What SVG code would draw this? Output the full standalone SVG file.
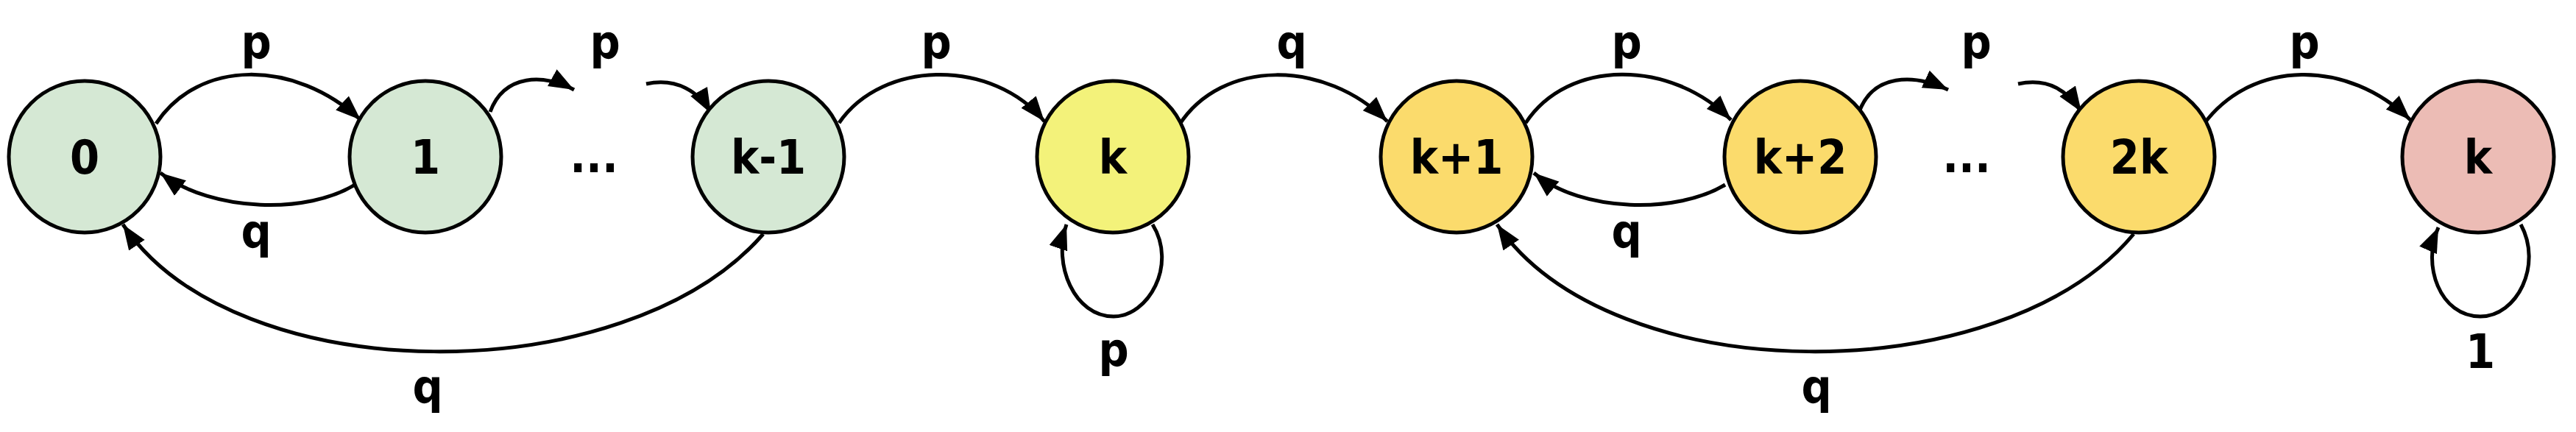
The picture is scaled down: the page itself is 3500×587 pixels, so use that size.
<svg xmlns="http://www.w3.org/2000/svg" width="3500" height="587" viewBox="0 0 3500 587">
<style>
text{font-family:"DejaVu Sans Condensed","DejaVu Sans",sans-serif;font-weight:bold;font-stretch:condensed;font-size:64px;text-anchor:middle;fill:#000}
.n{stroke:#000;stroke-width:5}
.e{fill:none;stroke:#000;stroke-width:5;marker-end:url(#a)}
</style>
<defs><marker id="a" markerUnits="userSpaceOnUse" markerWidth="40" markerHeight="30" refX="34" refY="13" orient="auto"><path d="M0,0 L34,13 L0,26 Z" fill="#000"/></marker></defs>
<rect width="3500" height="587" fill="#fff"/>
<g id="edges">
<path class="e" d="M212,168 C270,80 400,80 490,163"/>
<path class="e" d="M482,251 C420,290 290,290 218,235"/>
<path class="e" d="M666,152 C685,100 740,100 780,122"/>
<path class="e" d="M878,114 C920,105 950,125 966,154"/>
<path class="e" d="M1037,318 C850,533 320,533 167,305"/>
<path class="e" d="M1140,167 C1200,80 1350,80 1419,165"/>
<path class="e" d="M1602,170 C1660,80 1800,80 1885,165"/>
<path class="e" d="M2073,167 C2130,80 2270,80 2352,163"/>
<path class="e" d="M2344,251 C2280,290 2150,290 2084,235"/>
<path class="e" d="M1566,305 C1600,360 1560,430 1513,430 C1460,430 1430,360 1449,305"/>
<path class="e" d="M2526,152 C2545,100 2600,100 2647,122"/>
<path class="e" d="M2742,114 C2785,105 2810,125 2828,152"/>
<path class="e" d="M2899,318 C2720,533 2190,533 2034,305"/>
<path class="e" d="M2994,169 C3060,80 3190,80 3275,163"/>
<path class="e" d="M3425,305 C3455,360 3420,430 3370,430 C3315,430 3290,360 3313,309"/>
<text x="348" y="80">p</text>
<text x="348" y="337">q</text>
<text x="822" y="80">p</text>
<text x="581" y="548">q</text>
<text x="1272" y="80">p</text>
<text x="1755" y="80">q</text>
<text x="2210" y="80">p</text>
<text x="2210" y="337">q</text>
<text x="1513" y="498">p</text>
<text x="2685" y="80">p</text>
<text x="2468" y="548">q</text>
<text x="3131" y="80">p</text>
<text x="3370" y="500">1</text>
<text x="807" y="234">...</text>
<text x="2672" y="234">...</text>
</g>
<g id="n0"><circle class="n" cx="115" cy="213" r="103" fill="#d5e8d4"/><text x="115" y="236">0</text></g>
<g id="n1"><circle class="n" cx="578" cy="213" r="103" fill="#d5e8d4"/><text x="578" y="236">1</text></g>
<g id="nk1"><circle class="n" cx="1044" cy="213" r="103" fill="#d5e8d4"/><text x="1044" y="236">k-1</text></g>
<g id="nk"><circle class="n" cx="1512" cy="213" r="103" fill="#f3f27a"/><text x="1512" y="236">k</text></g>
<g id="nkp1"><circle class="n" cx="1979" cy="213" r="103" fill="#fbdb6c"/><text x="1979" y="236">k+1</text></g>
<g id="nkp2"><circle class="n" cx="2446" cy="213" r="103" fill="#fbdb6c"/><text x="2446" y="236">k+2</text></g>
<g id="n2k"><circle class="n" cx="2906" cy="213" r="103" fill="#fbdb6c"/><text x="2906" y="236">2k</text></g>
<g id="nkend"><circle class="n" cx="3367" cy="213" r="103" fill="#ecbcb5"/><text x="3367" y="236">k</text></g>
</svg>
